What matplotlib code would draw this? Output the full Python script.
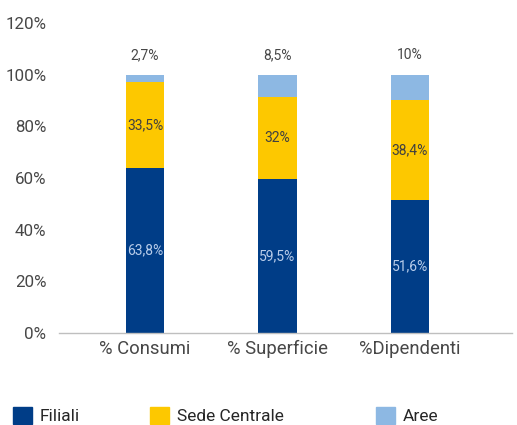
import matplotlib
matplotlib.use("Agg")
import matplotlib.pyplot as plt
from matplotlib.patches import Patch
import numpy as np

categories = ["% Consumi", "% Superficie", "%Dipendenti"]
filiali = [63.8, 59.5, 51.6]
sede = [33.5, 32.0, 38.4]
aree = [2.7, 8.5, 10.0]
filiali_lbl = ["63,8%", "59,5%", "51,6%"]
sede_lbl = ["33,5%", "32%", "38,4%"]
aree_lbl = ["2,7%", "8,5%", "10%"]
series_names = ["Filiali", "Sede Centrale", "Aree"]
yticks = [0, 20, 40, 60, 80, 100, 120]

c_fil = "#003D87"
c_sede = "#FDC800"
c_aree = "#8DB8E3"
txt = "#474747"

plt.rcParams['font.family'] = ['Roboto', 'DejaVu Sans']

fig = plt.figure(figsize=(5.17, 4.25), dpi=100)
ax = fig.add_axes([0.114, 0.2165, 0.876, 0.7295])

x = np.arange(len(categories))
w = 0.29
ax.bar(x, filiali, w, color=c_fil)
ax.bar(x, sede, w, bottom=filiali, color=c_sede)
bot3 = np.array(filiali) + np.array(sede)
ax.bar(x, aree, w, bottom=bot3, color=c_aree)

for i in range(len(categories)):
    ax.text(x[i], filiali[i] / 2, filiali_lbl[i], ha='center', va='center',
            fontsize=10, color="#B9CDEA")
    ax.text(x[i], filiali[i] + sede[i] / 2, sede_lbl[i], ha='center', va='center',
            fontsize=10, color="#404040")
    ax.text(x[i], bot3[i] + aree[i] + 7.5, aree_lbl[i], ha='center', va='center',
            fontsize=10, color="#474747")

ax.set_xlim(-0.65, 2.77)
ax.set_ylim(0, 120)
ax.set_yticks(yticks)
ax.set_yticklabels([f"{t}%" for t in yticks])
ax.set_xticks(x)
ax.set_xticklabels(categories)
for s in ['top', 'right', 'left']:
    ax.spines[s].set_visible(False)
ax.spines['bottom'].set_color("#BFBFBF")
ax.spines['bottom'].set_linewidth(1.0)
ax.tick_params(axis='y', length=0, colors=txt, labelsize=12.2, pad=9)
ax.tick_params(axis='x', length=0, colors=txt, labelsize=13.3, pad=5)

cols = [c_fil, c_sede, c_aree]
xs = [0.025, 0.29, 0.727]
for name, c, xp in zip(series_names, cols, xs):
    leg = fig.legend(handles=[Patch(color=c, label=name)], loc='center left',
                     bbox_to_anchor=(xp, 0.022), frameon=False, fontsize=12.5,
                     handlelength=1.1, handleheight=1.1, handletextpad=0.45,
                     borderpad=0, borderaxespad=0)
    for t in leg.get_texts():
        t.set_color("#262626")

fig.savefig("out.png", dpi=100)
